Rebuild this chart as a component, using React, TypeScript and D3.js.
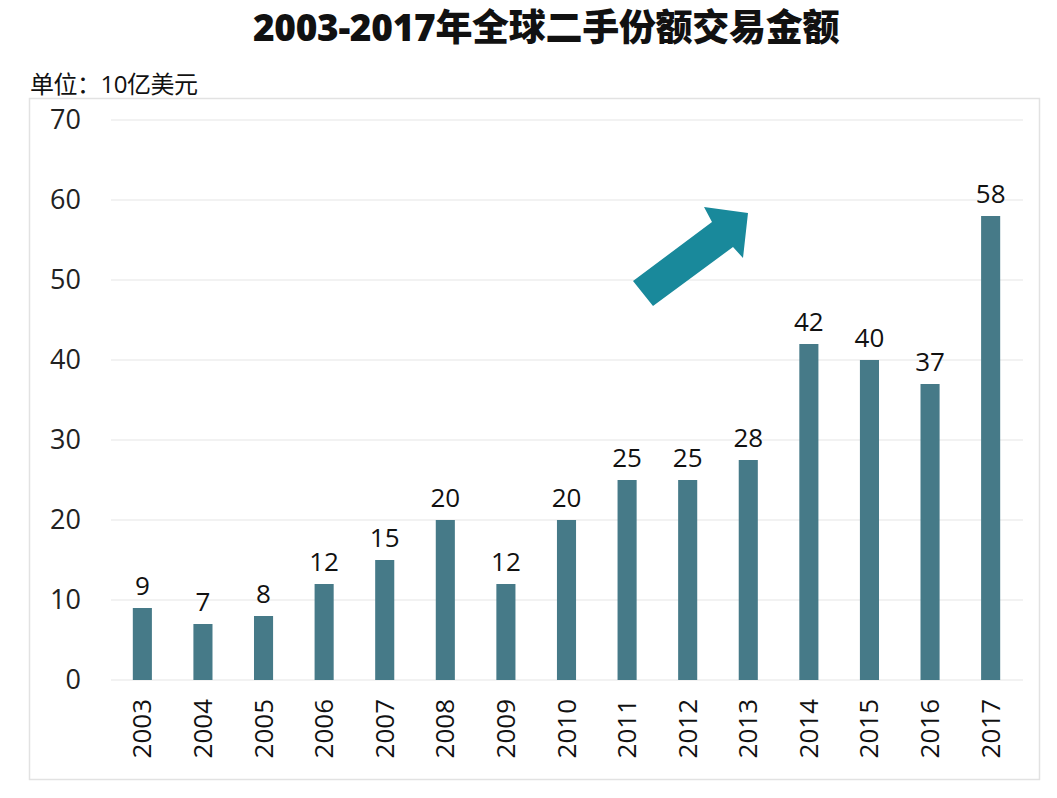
import React from "react";
import * as d3 from "d3";

const years = ["2003","2004","2005","2006","2007","2008","2009","2010","2011","2012","2013","2014","2015","2016","2017"];
const values = [9, 7, 8, 12, 15, 20, 12, 20, 25, 25, 27.5, 42, 40, 37, 58];
const valueLabels = ["9","7","8","12","15","20","12","20","25","25","28","42","40","37","58"];
const yTicks = [0, 10, 20, 30, 40, 50, 60, 70];
const title = "2003-2017年全球二手份额交易金额";
const unitLabel = "单位：10亿美元";

export default function App() {
  const W = 1057, H = 798;
  const font = "'Open Sans', 'Noto Sans CJK SC', sans-serif";
  const y = d3.scaleLinear().domain([0, 70]).range([680, 120]);
  const x = d3.scaleBand().domain(years).range([111, 1022]).paddingInner(0.685).paddingOuter(0.36);
  const arrow = "M633,281 L712,222 L704,207 L748,213 L743,258 L733,247 L653,306 Z";
  return (
    <svg width={W} height={H} style={{ position: "absolute", left: 0, top: 0, background: "#fff" }}>
      <rect x={0} y={0} width={W} height={H} fill="#fff" />
      <text x={546} y={41} textAnchor="middle" fontFamily={font} fontWeight="900" fontSize={37} fill="#111" letterSpacing={-0.3}>{title}</text>
      <text x={30} y={93} fontFamily={font} fontSize={24} fill="#111" letterSpacing={-0.5}>{unitLabel}</text>
      <rect x={29.5} y={98.5} width={1010} height={681} fill="none" stroke="#e2e2e2" strokeWidth={1.5} />
      {yTicks.map(t => (
        <g key={t}>
          <line x1={111} x2={1023} y1={y(t)} y2={y(t)} stroke="#e6e6e6" strokeWidth={1.2} />
          <text x={81} y={y(t) + 9} textAnchor="end" fontFamily={font} fontSize={27} fill="#222">{t}</text>
        </g>
      ))}
      {years.map((yr, i) => {
        const bx = x(yr)!;
        const bw = x.bandwidth();
        return (
          <g key={yr}>
            <rect x={bx} y={y(values[i])} width={bw} height={y(0) - y(values[i])} fill="#467a88" />
            <text x={bx + bw / 2} y={y(values[i]) - 13} textAnchor="middle" fontFamily={font} fontSize={26} fill="#111">{valueLabels[i]}</text>
            <text transform={`translate(${bx + bw / 2 + 9},699) rotate(-90)`} textAnchor="end" fontFamily={font} fontSize={26} fill="#111">{yr}</text>
          </g>
        );
      })}
      <path d={arrow} fill="#19899b" />
    </svg>
  );
}
